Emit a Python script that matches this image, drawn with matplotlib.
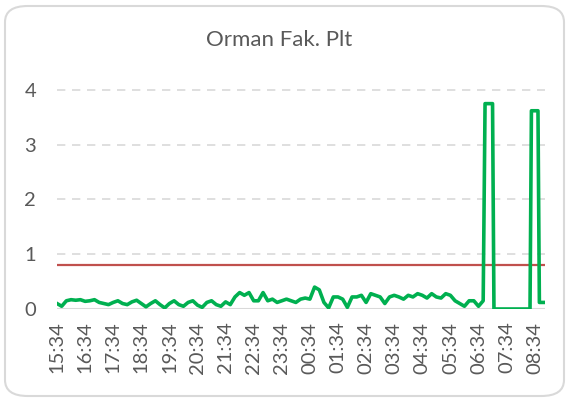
import matplotlib
matplotlib.use("Agg")
import matplotlib.pyplot as plt
from matplotlib.patches import FancyBboxPatch

# ---- data ----
title = "Orman Fak. Plt"
tick_labels = ["15:34", "16:34", "17:34", "18:34", "19:34", "20:34", "21:34", "22:34", "23:34",
               "00:34", "01:34", "02:34", "03:34", "04:34", "05:34", "06:34", "07:34", "08:34"]
tick_minutes = [60 * k for k in range(len(tick_labels))]

# readings every 10 minutes from 15:34 (minutes 0 .. 910)
regular_values = [
    0.10, 0.05, 0.15, 0.17, 0.16, 0.17, 0.14, 0.15, 0.17, 0.12,
    0.10, 0.08, 0.12, 0.15, 0.10, 0.08, 0.13, 0.16, 0.10, 0.04,
    0.10, 0.15, 0.08, 0.02, 0.10, 0.15, 0.08, 0.05, 0.12, 0.15,
    0.07, 0.03, 0.12, 0.15, 0.08, 0.05, 0.13, 0.08, 0.22, 0.30,
    0.25, 0.30, 0.15, 0.15, 0.30, 0.15, 0.18, 0.12, 0.15, 0.18,
    0.15, 0.12, 0.18, 0.20, 0.18, 0.40, 0.35, 0.12, 0.02, 0.22,
    0.22, 0.18, 0.03, 0.22, 0.22, 0.25, 0.12, 0.28, 0.25, 0.22,
    0.10, 0.22, 0.25, 0.22, 0.18, 0.25, 0.22, 0.28, 0.25, 0.20,
    0.28, 0.22, 0.20, 0.28, 0.25, 0.15, 0.10, 0.05, 0.15, 0.15,
    0.05, 0.15,
]
regular_minutes = [10 * k for k in range(len(regular_values))]

# later readings (minutes since 15:34)
tail_minutes = [914, 930, 933, 1010, 1013, 1027, 1030, 1042]
tail_values = [3.75, 3.75, 0.0, 0.0, 3.62, 3.62, 0.12, 0.12]

limit_value = 0.8
end_minute = 1042

minutes = regular_minutes + tail_minutes
values = regular_values + tail_values

# ---- figure ----
W, H = 570, 401
fig = plt.figure(figsize=(W / 100, H / 100), dpi=100)
fig.patch.set_facecolor("white")

border = FancyBboxPatch((5 / W, 5 / H), 559 / W, 390 / H,
                        boxstyle="round,pad=0,rounding_size=0.04",
                        transform=fig.transFigure, facecolor="white",
                        edgecolor="#D9D9D9", linewidth=1.5, zorder=-10)
fig.patches.append(border)

ax = fig.add_axes([57 / W, 1 - 309 / H, (545 - 57) / W, (309 - 79) / H])
ax.set_facecolor("none")
ax.set_zorder(5)

font = ["Lato", "DejaVu Sans"]
grey = "#595959"

ax.plot(minutes, values, color="#00B050", linewidth=2.6, solid_joinstyle="round", zorder=3)
ax.plot([0, end_minute], [limit_value, limit_value], color="#C0504D", linewidth=1.6, zorder=2)

ax.set_xlim(0, end_minute)
ax.set_ylim(0, 4.2)
ax.set_yticks([0, 1, 2, 3, 4])
for y in [1, 2, 3, 4]:
    ax.axhline(y, color="#D9D9D9", linewidth=1.2, linestyle=(0, (5, 4)), zorder=1)
ax.axhline(0, color="#D9D9D9", linewidth=1.5, zorder=1)

ax.set_xticks(tick_minutes)
ax.set_xticklabels(tick_labels, rotation=90, fontsize=14.5, color=grey, family=font)
for lab in ax.get_yticklabels():
    lab.set_fontsize(14.5)
    lab.set_color(grey)
    lab.set_family(font)
ax.tick_params(axis="both", length=0)
ax.tick_params(axis="y", pad=15)
ax.tick_params(axis="x", pad=9)
for s in ax.spines.values():
    s.set_visible(False)

fig.text(279 / W, 1 - 40 / H, title, ha="center", va="center", fontsize=16, color=grey, family=font)

fig.savefig("out.png", dpi=100)
